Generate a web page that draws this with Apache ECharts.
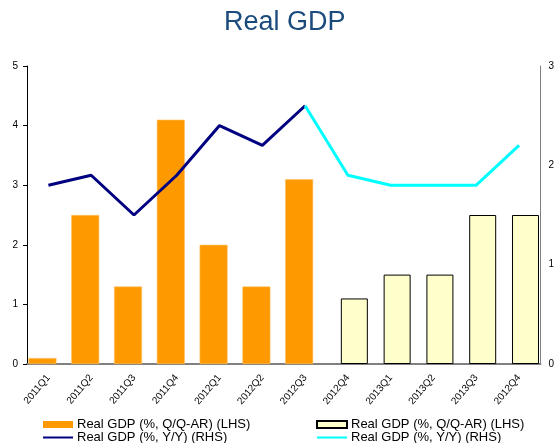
<!DOCTYPE html>
<html>
<head>
<meta charset="utf-8">
<script src="https://cdn.jsdelivr.net/npm/echarts@6/dist/echarts.min.js"></script>
<style>
  html, body { margin: 0; padding: 0; background: #fff; }
  #chart { width: 557px; height: 443px; }
</style>
</head>
<body>
<div id="chart"></div>
<script>
const categories = ['2011Q1','2011Q2','2011Q3','2011Q4','2012Q1','2012Q2','2012Q3','2012Q4','2013Q1','2013Q2','2013Q3','2012Q4'];
const qqActual = [0.1, 2.5, 1.3, 4.1, 2.0, 1.3, 3.1, null, null, null, null, null];
const qqForecast = [null, null, null, null, null, null, null, 1.1, 1.5, 1.5, 2.5, 2.5];
const yyActual = [1.8, 1.9, 1.5, 1.9, 2.4, 2.2, 2.6, null, null, null, null, null];
const yyForecast = [null, null, null, null, null, null, 2.6, 1.9, 1.8, 1.8, 1.8, 2.2];
const leftTicks = { min: 0, max: 5, interval: 1 };
const rightTicks = { min: 0, max: 3, interval: 1 };

const nameQQ1 = 'Real GDP (%, Q/Q-AR) (LHS)';
const nameQQ2 = 'Real GDP (%, Q/Q-AR) (LHS)\u200b';
const nameYY1 = 'Real GDP (%, Y/Y) (RHS)';
const nameYY2 = 'Real GDP (%, Y/Y) (RHS)\u200b';

const font = 'Liberation Sans, Arial, sans-serif';
const chart = echarts.init(document.getElementById('chart'), null, { renderer: 'canvas' });
const hiddenDot = { color: 'rgba(0,0,0,0)', borderWidth: 0, borderColor: 'rgba(0,0,0,0)' };
const legendCommon = {
  type: 'plain',
  orient: 'vertical',
  top: 418,
  height: 60,
  itemWidth: 30,
  itemHeight: 7,
  itemGap: 0,
  padding: 0,
  selectedMode: false,
  textStyle: { fontFamily: font, fontSize: 13, color: '#000', lineHeight: 11, padding: [0, 0, 0, -1] },
  formatter: n => n.replace('\u200b', '')
};
chart.setOption({
  animation: false,
  backgroundColor: '#fff',
  title: {
    text: 'Real GDP',
    left: 224,
    top: 9,
    padding: 0,
    textStyle: { fontFamily: font, fontSize: 27, fontWeight: 'normal', color: '#1B4B7C' }
  },
  legend: [
    Object.assign({}, legendCommon, {
      left: 42,
      data: [
        { name: nameQQ1, icon: 'rect', itemStyle: { color: '#FF9900', borderWidth: 0 } },
        { name: nameYY1, itemStyle: hiddenDot }
      ]
    }),
    Object.assign({}, legendCommon, {
      left: 316,
      data: [
        { name: nameQQ2, icon: 'rect' },
        { name: nameYY2, itemStyle: hiddenDot }
      ]
    })
  ],
  grid: { left: 27, right: 14, top: 66, bottom: 79 },
  xAxis: {
    type: 'category',
    data: categories,
    axisLine: { lineStyle: { color: '#808080', width: 2 } },
    axisTick: { show: false },
    axisLabel: { rotate: 50, margin: 12, interval: 0, fontFamily: font, fontSize: 10, color: '#000' }
  },
  yAxis: [
    {
      type: 'value',
      min: leftTicks.min, max: leftTicks.max, interval: leftTicks.interval,
      splitLine: { show: false },
      axisLine: { show: true, lineStyle: { color: '#000', width: 1 } },
      axisTick: { show: true, length: 4, lineStyle: { color: '#000' } },
      axisLabel: { margin: 9, fontFamily: font, fontSize: 10, color: '#000' }
    },
    {
      type: 'value',
      position: 'right',
      min: rightTicks.min, max: rightTicks.max, interval: rightTicks.interval,
      splitLine: { show: false },
      axisLine: { show: true, lineStyle: { color: '#808080', width: 1 } },
      axisTick: { show: false },
      axisLabel: { margin: 8, fontFamily: font, fontSize: 10, color: '#000' }
    }
  ],
  series: [
    {
      name: nameQQ1, type: 'bar', yAxisIndex: 0, data: qqActual,
      barWidth: 28, barGap: '-54%',
      itemStyle: { color: '#FF9900', borderColor: '#FFC266', borderWidth: 0.6 }
    },
    {
      name: nameQQ2, type: 'bar', yAxisIndex: 0, data: qqForecast,
      barWidth: 27, barGap: '-54%',
      itemStyle: { color: '#FFFFCC', borderColor: '#000', borderWidth: 1 }
    },
    {
      name: nameYY1, type: 'line', yAxisIndex: 1, data: yyActual,
      symbol: 'none', showSymbol: false, z: 5,
      lineStyle: { color: '#000080', width: 3 },
      itemStyle: { color: '#000080' }
    },
    {
      name: nameYY2, type: 'line', yAxisIndex: 1, data: yyForecast,
      symbol: 'none', showSymbol: false, z: 5,
      lineStyle: { color: '#00FFFF', width: 3 },
      itemStyle: { color: '#00FFFF' }
    }
  ]
});
</script>
</body>
</html>
